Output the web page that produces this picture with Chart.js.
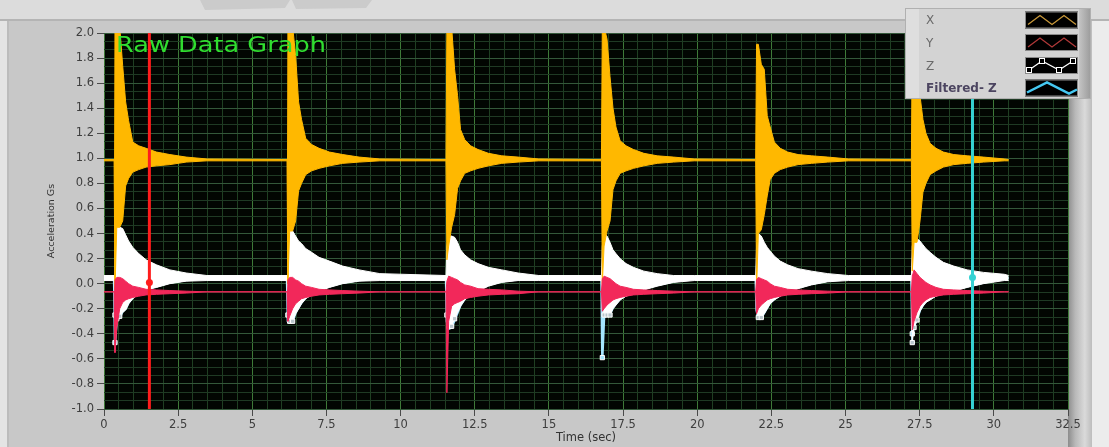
<!DOCTYPE html>
<html>
<head>
<meta charset="utf-8">
<script src="https://cdn.jsdelivr.net/npm/chart.js@4.4.1/dist/chart.umd.min.js"></script>
<style>
  html, body { margin: 0; padding: 0; background: #c8c8c8; }
  #rawChart { display: block; }
</style>
</head>
<body>
<canvas id="rawChart" width="1109" height="447"></canvas>
<script>
// sample times (s): one baseline point, then 14 samples around each of the six impacts
const timeSec = [
  0.00,
  0.34, 0.37, 0.43, 0.53, 0.63, 0.73, 0.83, 0.97, 1.17, 1.42, 1.77, 2.22, 2.77, 3.47,
  6.17, 6.20, 6.26, 6.36, 6.46, 6.56, 6.66, 6.80, 7.00, 7.25, 7.60, 8.05, 8.60, 9.30,
  11.53, 11.56, 11.62, 11.72, 11.82, 11.92, 12.02, 12.16, 12.36, 12.61, 12.96, 13.41, 13.96, 14.66,
  16.77, 16.80, 16.86, 16.96, 17.06, 17.16, 17.26, 17.40, 17.60, 17.85, 18.20, 18.65, 19.20, 19.90,
  21.97, 22.00, 22.06, 22.16, 22.26, 22.36, 22.46, 22.60, 22.80, 23.05, 23.40, 23.85, 24.40, 25.10,
  27.22, 27.25, 27.31, 27.41, 27.51, 27.61, 27.71, 27.85, 28.05, 28.30, 28.65, 29.10, 29.65, 30.35,
  30.50
];

// X channel: upper / lower edge of the ringing trace (G)
const xHigh = [
  0.99,
  0.99, 2.05, 2.05, 2.05, 1.74, 1.45, 1.30, 1.13, 1.10, 1.08, 1.05, 1.03, 1.01, 0.995,
  0.99, 2.05, 2.05, 2.05, 1.82, 1.45, 1.31, 1.16, 1.11, 1.08, 1.05, 1.03, 1.01, 0.995,
  0.99, 2.05, 2.05, 2.05, 1.71, 1.50, 1.23, 1.15, 1.10, 1.07, 1.04, 1.02, 1.01, 0.995,
  0.99, 2.05, 2.05, 1.95, 1.65, 1.40, 1.25, 1.14, 1.10, 1.07, 1.04, 1.02, 1.01, 0.995,
  0.99, 1.91, 1.91, 1.75, 1.71, 1.34, 1.25, 1.13, 1.08, 1.05, 1.03, 1.02, 1.01, 0.995,
  0.99, 1.98, 1.98, 1.90, 1.50, 1.31, 1.20, 1.12, 1.08, 1.05, 1.03, 1.02, 1.01, 0.995,
  0.99
];
const xLow = [
  0.98,
  0.98, -0.05, 0.45, 0.45, 0.50, 0.78, 0.84, 0.89, 0.91, 0.93, 0.94, 0.95, 0.97, 0.98,
  0.98, 0.00, 0.42, 0.42, 0.50, 0.74, 0.80, 0.87, 0.90, 0.92, 0.94, 0.96, 0.97, 0.98,
  0.98, 0.19, 0.30, 0.45, 0.55, 0.76, 0.82, 0.88, 0.90, 0.92, 0.94, 0.96, 0.97, 0.98,
  0.98, 0.00, 0.30, 0.42, 0.50, 0.75, 0.82, 0.88, 0.90, 0.92, 0.94, 0.96, 0.97, 0.98,
  0.98, -0.05, 0.40, 0.43, 0.55, 0.70, 0.83, 0.88, 0.91, 0.93, 0.95, 0.96, 0.97, 0.98,
  0.98, 0.10, 0.33, 0.33, 0.50, 0.73, 0.80, 0.87, 0.90, 0.93, 0.95, 0.96, 0.97, 0.98,
  0.98
];

// Y channel
const yHigh = [
  -0.065,
  -0.065, 0.03, 0.05, 0.05, 0.04, 0.02, 0.00, -0.02, -0.03, -0.045, -0.05, -0.055, -0.06, -0.065,
  -0.065, 0.03, 0.05, 0.05, 0.03, 0.02, 0.00, -0.02, -0.03, -0.045, -0.05, -0.055, -0.06, -0.065,
  -0.065, 0.02, 0.06, 0.05, 0.04, 0.03, 0.01, -0.01, -0.02, -0.04, -0.045, -0.05, -0.06, -0.065,
  -0.065, 0.04, 0.06, 0.05, 0.04, 0.02, 0.00, -0.02, -0.03, -0.045, -0.05, -0.055, -0.06, -0.065,
  -0.065, 0.03, 0.05, 0.04, 0.03, 0.02, 0.00, -0.02, -0.03, -0.045, -0.05, -0.055, -0.06, -0.065,
  -0.065, 0.06, 0.11, 0.08, 0.05, 0.03, 0.01, -0.01, -0.03, -0.045, -0.05, -0.055, -0.06, -0.065,
  -0.065
];
const yLow = [
  -0.065,
  -0.065, -0.55, -0.35, -0.20, -0.15, -0.13, -0.12, -0.11, -0.10, -0.09, -0.085, -0.08, -0.075, -0.065,
  -0.065, -0.30, -0.26, -0.20, -0.16, -0.14, -0.12, -0.11, -0.10, -0.09, -0.085, -0.08, -0.075, -0.065,
  -0.065, -0.87, -0.30, -0.18, -0.16, -0.15, -0.14, -0.12, -0.11, -0.10, -0.09, -0.085, -0.08, -0.065,
  -0.065, -0.22, -0.20, -0.17, -0.15, -0.13, -0.12, -0.11, -0.10, -0.09, -0.085, -0.08, -0.075, -0.065,
  -0.065, -0.24, -0.20, -0.17, -0.15, -0.13, -0.12, -0.11, -0.10, -0.09, -0.085, -0.08, -0.075, -0.065,
  -0.065, -0.37, -0.30, -0.23, -0.18, -0.15, -0.13, -0.11, -0.10, -0.09, -0.085, -0.08, -0.075, -0.065,
  -0.065
];

// Z channel
const zHigh = [
  0.065,
  0.065, 0.30, 0.45, 0.45, 0.44, 0.39, 0.34, 0.29, 0.24, 0.19, 0.15, 0.11, 0.085, 0.065,
  0.065, 0.30, 0.42, 0.42, 0.38, 0.34, 0.32, 0.28, 0.25, 0.21, 0.18, 0.14, 0.11, 0.08,
  0.065, 0.30, 0.38, 0.38, 0.37, 0.33, 0.27, 0.23, 0.19, 0.16, 0.13, 0.11, 0.085, 0.065,
  0.065, 0.30, 0.40, 0.38, 0.33, 0.27, 0.24, 0.20, 0.16, 0.13, 0.10, 0.08, 0.065, 0.065,
  0.065, 0.30, 0.40, 0.38, 0.33, 0.29, 0.26, 0.22, 0.18, 0.15, 0.12, 0.10, 0.08, 0.065,
  0.065, 0.30, 0.36, 0.36, 0.34, 0.31, 0.28, 0.25, 0.21, 0.17, 0.14, 0.11, 0.09, 0.075,
  0.065
];
const zLow = [
  0.025,
  0.025, -0.25, -0.28, -0.26, -0.23, -0.21, -0.16, -0.12, -0.08, -0.05, -0.03, 0.00, 0.02, 0.025,
  0.025, -0.25, -0.30, -0.30, -0.24, -0.20, -0.16, -0.12, -0.09, -0.06, -0.03, 0.00, 0.02, 0.025,
  0.025, -0.25, -0.34, -0.34, -0.28, -0.23, -0.18, -0.13, -0.09, -0.06, -0.02, 0.01, 0.025, 0.025,
  0.025, -0.20, -0.25, -0.25, -0.25, -0.20, -0.17, -0.13, -0.10, -0.08, -0.05, -0.02, 0.01, 0.025,
  0.025, -0.20, -0.27, -0.27, -0.24, -0.20, -0.16, -0.13, -0.10, -0.07, -0.04, -0.01, 0.015, 0.025,
  0.025, -0.47, -0.35, -0.29, -0.22, -0.18, -0.15, -0.13, -0.10, -0.08, -0.06, -0.03, 0.00, 0.025,
  0.025
];

// low-pass filtered Z, mostly hidden behind the raw Z band
const filteredZ = [
  0.045,
  0.045, -0.47, -0.29, -0.27, -0.22, -0.20, -0.15, -0.11, -0.07, -0.04, -0.02, 0.01, 0.03, 0.045,
  0.045, -0.30, -0.31, -0.30, -0.23, -0.19, -0.15, -0.11, -0.08, -0.05, -0.02, 0.01, 0.03, 0.045,
  0.045, -0.30, -0.36, -0.35, -0.29, -0.23, -0.17, -0.12, -0.08, -0.05, -0.01, 0.02, 0.035, 0.045,
  0.045, -0.59, -0.26, -0.25, -0.24, -0.19, -0.16, -0.12, -0.09, -0.07, -0.04, -0.01, 0.02, 0.045,
  0.045, -0.21, -0.27, -0.27, -0.23, -0.19, -0.15, -0.12, -0.09, -0.06, -0.03, 0.00, 0.025, 0.045,
  0.045, -0.40, -0.34, -0.28, -0.21, -0.17, -0.14, -0.12, -0.09, -0.07, -0.05, -0.02, 0.01, 0.045,
  0.045
];

// graph cursors: time and the level of their lock point
const cursorTimes = [1.53, 29.28];
const cursorLevels = [0.01, 0.05];

const timeLabels = ['0', '2.5', '5', '7.5', '10', '12.5', '15', '17.5', '20', '22.5', '25', '27.5', '30', '32.5'];
const accelLabels = ['-1.0', '-0.8', '-0.6', '-0.4', '-0.2', '0.0', '0.2', '0.4', '0.6', '0.8',
                     '1.0', '1.2', '1.4', '1.6', '1.8', '2.0'];
const seriesNames = ['X', 'Y', 'Z', 'Filtered- Z'];

const pts = vals => timeSec.map((t, i) => ({ x: t, y: vals[i] }));

function trace(label, vals, color, extra) {
  return Object.assign({
    label: label,
    data: pts(vals),
    borderColor: color,
    backgroundColor: color,
    borderWidth: 1,
    pointRadius: 0,
    tension: 0,
    fill: false,
    clip: 0
  }, extra || {});
}

function cursor(i, color) {
  const t = cursorTimes[i];
  return {
    label: 'cursor' + i,
    data: [{ x: t, y: -1 }, { x: t, y: cursorLevels[i] }, { x: t, y: 2 }],
    borderColor: color,
    backgroundColor: color,
    borderWidth: 3,
    pointRadius: c => c.dataIndex === 1 ? 3.5 : 0,
    pointBorderWidth: 0,
    clip: 0
  };
}

const tickFont = { family: 'DejaVu Sans', size: 11.5 };

// grey front panel, black plot area
const backdrop = {
  id: 'backdrop',
  beforeDraw(chart) {
    const { ctx, width, height, chartArea: a } = chart;
    ctx.save();
    ctx.fillStyle = '#c8c8c8';
    ctx.fillRect(0, 0, width, height);
    ctx.fillStyle = '#dcdcdc';
    ctx.fillRect(0, 0, width, 19);
    ctx.fillStyle = '#cbcbcb';
    ctx.beginPath();
    ctx.moveTo(200, 0); ctx.lineTo(290, 0); ctx.lineTo(285, 8); ctx.lineTo(205, 10); ctx.closePath();
    ctx.moveTo(292, 0); ctx.lineTo(372, 0); ctx.lineTo(366, 8); ctx.lineTo(296, 9); ctx.closePath();
    ctx.fill();
    ctx.fillStyle = '#b4b4b4';
    ctx.fillRect(0, 19, width, 2);
    ctx.fillStyle = '#e4e4e4';
    ctx.fillRect(0, 21, 7, height - 21);
    ctx.fillStyle = '#bcbcbc';
    ctx.fillRect(7, 21, 2, height - 21);
    const g = ctx.createLinearGradient(a.right, 0, 1092, 0);
    g.addColorStop(0, '#8c8c8c');
    g.addColorStop(0.3, '#b8b8b8');
    g.addColorStop(0.7, '#dadada');
    g.addColorStop(1, '#bdbdbd');
    ctx.fillStyle = g;
    ctx.fillRect(a.right, 21, 1092 - a.right, height - 21);
    ctx.fillStyle = '#ececec';
    ctx.fillRect(1092, 21, width - 1092, height - 21);
    ctx.fillStyle = '#020602';
    ctx.fillRect(a.left, a.top, a.right - a.left, a.bottom - a.top);
    ctx.restore();
  }
};

// plot caption and plot legend drawn over the graph
const overlay = {
  id: 'overlay',
  afterDraw(chart) {
    const ctx = chart.ctx;
    ctx.save();
    ctx.fillStyle = '#30de30';
    ctx.font = '21px "DejaVu Sans"';
    ctx.textBaseline = 'alphabetic';
    ctx.translate(116, 52);
    ctx.scale(1.22, 1);
    ctx.fillText('Raw Data Graph', 0, 0);
    ctx.restore();

    const bx = 905, by = 8, bw = 186, bh = 91;
    ctx.save();
    ctx.fillStyle = '#d3d3d3';
    ctx.fillRect(bx, by, bw, bh);
    ctx.fillStyle = '#dedede';
    ctx.fillRect(bx, by, 14, bh);
    const sh = ctx.createLinearGradient(bx + bw - 12, 0, bx + bw, 0);
    sh.addColorStop(0, '#c4c4c4');
    sh.addColorStop(1, '#9a9a9a');
    ctx.fillStyle = sh;
    ctx.fillRect(bx + bw - 12, by, 12, bh);
    ctx.strokeStyle = '#b0b0b0';
    ctx.lineWidth = 1;
    ctx.strokeRect(bx + 0.5, by + 0.5, bw - 1, bh - 1);

    const rows = [20, 42.5, 65.5, 88];
    const sw = { x: 1025, w: 53, h: 17 };
    seriesNames.forEach((name, i) => {
      ctx.font = (i === 3 ? 'bold ' : '') + '12px "DejaVu Sans"';
      ctx.fillStyle = i === 3 ? '#4c4560' : '#6a6a6a';
      ctx.textBaseline = 'middle';
      ctx.fillText(name, 926, rows[i] + 1);
      const y0 = rows[i] - sw.h / 2;
      ctx.fillStyle = '#000';
      ctx.fillRect(sw.x, y0, sw.w, sw.h);
      ctx.strokeStyle = '#8a8a8a';
      ctx.strokeRect(sw.x + 0.5, y0 + 0.5, sw.w - 1, sw.h - 1);
    });
    const path = (pts, y0, color, lw) => {
      ctx.strokeStyle = color;
      ctx.lineWidth = lw;
      ctx.beginPath();
      pts.forEach(([px, py], k) => k ? ctx.lineTo(sw.x + px, y0 + py) : ctx.moveTo(sw.x + px, y0 + py));
      ctx.stroke();
    };
    const zig = [[3, 13], [15, 4], [27, 13], [39, 4], [51, 13]];
    path(zig, rows[0] - 8.5, '#c8983a', 1.3);
    path(zig, rows[1] - 8.5, '#b03838', 1.3);
    const zPts = [[4, 13], [17, 4], [34, 13], [48, 4]];
    path(zPts, rows[2] - 8.5, '#ffffff', 1.2);
    zPts.forEach(([px, py]) => {
      ctx.fillStyle = '#000';
      ctx.fillRect(sw.x + px - 2.5, rows[2] - 8.5 + py - 2.5, 5, 5);
      ctx.strokeStyle = '#fff';
      ctx.lineWidth = 1;
      ctx.strokeRect(sw.x + px - 2.5, rows[2] - 8.5 + py - 2.5, 5, 5);
    });
    path([[2, 13], [22, 3], [44, 14], [52, 10]], rows[3] - 8.5, '#45c8f2', 2.5);
    ctx.restore();
  }
};

new Chart(document.getElementById('rawChart'), {
  type: 'line',
  data: {
    datasets: [
      cursor(0, '#ff1c1c'),
      cursor(1, '#35d2d2'),
      trace('Y', yHigh, '#f2285a'),
      trace('Y low', yLow, '#f2285a', { fill: '-1' }),
      trace('X', xHigh, '#ffb800'),
      trace('X low', xLow, '#ffb800', { fill: '-1' }),
      trace('Z', zHigh, '#ffffff'),
      trace('Z low', zLow, '#ffffff', {
        fill: '-1',
        pointStyle: 'rect',
        pointRadius: c => (c.raw && c.raw.y <= -0.25) ? 3 : 0,
        pointBackgroundColor: '#b9c6cc',
        pointBorderColor: '#ffffff',
        pointBorderWidth: 1
      }),
      trace('Filtered- Z', filteredZ, '#a4e6ff', {
        borderWidth: 2.5,
        pointStyle: 'rect',
        pointRadius: c => (c.raw && c.raw.y <= -0.4) ? 3 : 0,
        pointBackgroundColor: '#a4e6ff',
        pointBorderColor: '#ffffff',
        pointBorderWidth: 1
      })
    ]
  },
  options: {
    responsive: false,
    devicePixelRatio: 1,
    animation: false,
    events: [],
    layout: { padding: { left: 40, right: 41, top: 33, bottom: 0 } },
    plugins: {
      legend: { display: false },
      tooltip: { enabled: false }
    },
    scales: {
      x: {
        type: 'linear',
        min: 0,
        max: 32.5,
        afterBuildTicks: s => { s.ticks = []; for (let i = 0; i <= 65; i++) s.ticks.push({ value: i * 0.5 }); },
        afterFit: s => { s.height = 38; },
        ticks: {
          autoSkip: false, maxRotation: 0, padding: 2, font: tickFont, color: '#3e3e3e',
          callback: (v, i) => i % 5 === 0 ? timeLabels[i / 5] : ''
        },
        grid: {
          color: c => c.index % 5 === 0 ? '#3e7a38' : '#1f3f22',
          tickColor: c => c.index % 5 === 0 ? '#4a4a4a' : 'rgba(0,0,0,0)',
          tickLength: 7
        },
        border: { display: false },
        title: { display: true, text: 'Time (sec)', color: '#333', font: { family: 'DejaVu Sans', size: 11.5 }, padding: { top: 0, bottom: 2 } }
      },
      y: {
        type: 'linear',
        min: -1,
        max: 2,
        afterBuildTicks: s => { s.ticks = []; for (let i = 0; i <= 45; i++) s.ticks.push({ value: -1 + i / 15 }); },
        afterFit: s => { s.width = 64; },
        ticks: {
          autoSkip: false, padding: 3, font: tickFont, color: '#3e3e3e',
          callback: (v, i) => i % 3 === 0 ? accelLabels[i / 3] : ''
        },
        grid: {
          color: c => c.index % 3 === 0 ? '#34583a' : '#1f3a24',
          tickColor: c => c.index % 3 === 0 ? '#4a4a4a' : 'rgba(0,0,0,0)',
          tickLength: 7
        },
        border: { display: false },
        title: { display: true, text: 'Acceleration Gs', color: '#333', font: { family: 'DejaVu Sans', size: 9.5 }, padding: { top: 6, bottom: 0 } }
      }
    }
  },
  plugins: [backdrop, overlay]
});
</script>
</body>
</html>
